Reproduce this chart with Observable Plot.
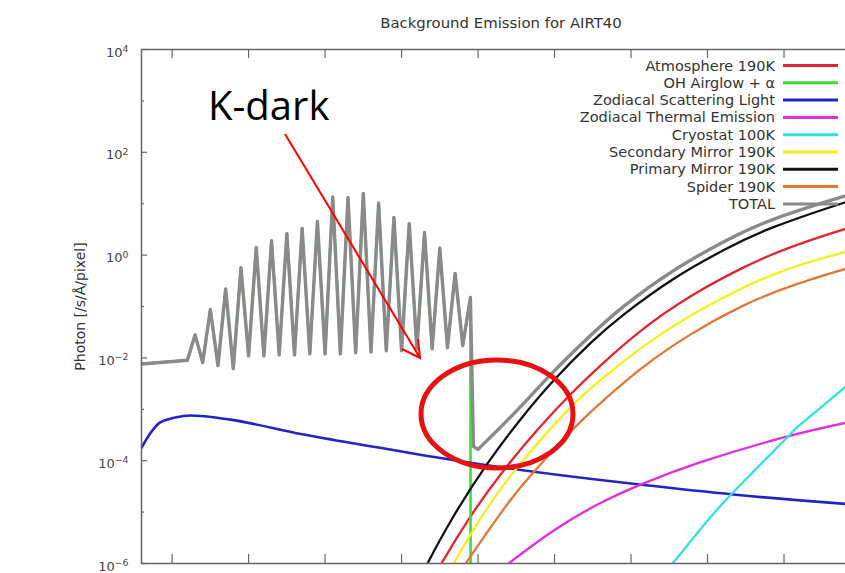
<!DOCTYPE html>
<html><head><meta charset="utf-8">
<script src="https://cdn.jsdelivr.net/npm/d3@7"></script>
<script src="https://cdn.jsdelivr.net/npm/@observablehq/plot@0.6"></script>
<style>
html,body{margin:0;padding:0;background:#fff;overflow:hidden;}
#chart{width:845px;height:573px;overflow:hidden;position:relative;}
#chart svg{max-width:none !important;}
</style></head><body><div id="chart"></div>
<script>
const chartTitle = "Background Emission for AIRT40";
const yAxisLabel = "Photon [/s/Å/pixel]";
const seriesNames = ["Atmosphere 190K","OH Airglow + α","Zodiacal Scattering Light","Zodiacal Thermal Emission","Cryostat 100K","Secondary Mirror 190K","Primary Mirror 190K","Spider 190K","TOTAL"];
const seriesColors = ["#e2262f","#3ddc3d","#2424c4","#e02ee0","#35e0e0","#f2f020","#111111","#e27838","#8a8a8a"];

const yTickValues = [1e-6, 1e-4, 1e-2, 1, 1e2, 1e4];
const yTickLabels = ["10^−6","10^−4","10^−2","10^0","10^2","10^4"];
const yMinorTicks = [1e-5, 1e-3, 1e-1, 1e1, 1e3];
const xTickValues = [0.5, 1.0, 1.5, 2.0, 2.5, 3.0, 3.5, 4.0, 4.5];

// wavelength [um] / photon rate
const ohWl = [0.30,0.60,0.65,0.70,0.75,0.80,0.85,0.90,0.95,1.00,1.05,1.10,1.15,1.20,1.25,1.30,1.35,1.40,1.45,1.50,1.55,1.60,1.65,1.70,1.75,1.80,1.85,1.90,1.95,2.00,2.05,2.10,2.15,2.20,2.25,2.30,2.35,2.40,2.45];
const ohVal = [7.6e-3,9.0e-3,0.028,8.1e-3,0.087,7.1e-3,0.22,6.2e-3,0.57,0.011,1.41,0.011,1.9,0.0115,2.6,0.0115,3.3,0.012,4.5,0.012,13.5,0.012,13.2,0.0126,15.8,0.013,10.3,0.0138,5.4,0.0138,4.1,0.015,2.75,0.015,1.37,0.0158,0.44,0.0174,0.15];
const airglowWl = [...ohWl, 2.452];
const airglowVal = [...ohVal, 1e-9];

const atmosWl = [2.19,2.26,2.45,2.67,2.89,3.11,3.30,3.57,3.89,4.22,4.55,4.91,5.00];
const atmosVal = [4.0e-7,9.9e-7,8.2e-6,6.6e-5,4.06e-4,2.03e-3,7.1e-3,0.0347,0.158,0.546,1.45,3.30,3.96];

const zodiScatterWl = [0.30,0.36,0.42,0.52,0.62,0.88,1.34,1.86,2.13,2.45,3.30,3.57,4.17,4.91,5.00];
const zodiScatterVal = [1.78e-4,3.5e-4,5.5e-4,6.9e-4,7.6e-4,6.3e-4,3.3e-4,1.78e-4,1.29e-4,9.1e-5,4.2e-5,3.4e-5,2.2e-5,1.44e-5,1.38e-5];

const zodiThermalWl = [2.62,2.70,3.00,3.30,3.57,3.96,4.53,4.91,5.00];
const zodiThermalVal = [6.3e-7,1.0e-6,4.5e-6,1.5e-5,3.5e-5,9.5e-5,3.0e-4,5.5e-4,6.3e-4];

const cryoWl = [3.72,3.77,3.96,4.17,4.53,4.63,4.91,5.00];
const cryoVal = [6.2e-7,9.8e-7,4.9e-6,2.48e-5,3.03e-4,5.77e-4,2.88e-3,4.6e-3];

const secondaryWl = [2.27,2.34,2.52,2.74,3.06,3.30,3.57,3.89,4.22,4.55,4.91,5.00];
const secondaryVal = [4.2e-7,1.0e-6,7.8e-6,6.4e-5,7.98e-4,3.69e-3,0.0158,0.0665,0.222,0.565,1.17,1.37];

const primaryWl = [2.10,2.17,2.34,2.56,2.78,3.00,3.24,3.45,3.78,4.11,4.44,4.91,5.00];
const primaryVal = [3.5e-7,1.0e-6,8.3e-6,8.7e-5,6.5e-4,3.8e-3,0.020,0.069,0.347,1.27,3.58,10.9,13.1];

const spiderWl = [2.34,2.41,2.67,2.85,3.11,3.30,3.57,3.89,4.22,4.55,4.91,5.00];
const spiderVal = [4.2e-7,9.1e-7,1.17e-5,5.4e-5,3.78e-4,1.32e-3,6.3e-3,0.0287,0.0993,0.252,0.548,0.658];

const totalWl = [...ohWl, 2.47,2.50,2.63,2.78,3.00,3.24,3.45,3.78,4.11,4.44,4.91,5.00];
const totalVal = [...ohVal, 1.9e-4,1.66e-4,4.0e-4,1.14e-3,5.65e-3,0.0282,0.0998,0.504,1.84,5.08,14.4,16.9];

const toRows = (xs, ys) => xs.map((x, i) => ({x, y: ys[i]}));
const series = [
  {rows: toRows(atmosWl, atmosVal), curve: "natural", w: 2.3},
  {rows: toRows(airglowWl, airglowVal), curve: "linear", w: 2.6},
  {rows: toRows(zodiScatterWl, zodiScatterVal), curve: "monotone-x", w: 2.6},
  {rows: toRows(zodiThermalWl, zodiThermalVal), curve: "natural", w: 2.3},
  {rows: toRows(cryoWl, cryoVal), curve: "natural", w: 2.3},
  {rows: toRows(secondaryWl, secondaryVal), curve: "natural", w: 2.3},
  {rows: toRows(primaryWl, primaryVal), curve: "natural", w: 2.3},
  {rows: toRows(spiderWl, spiderVal), curve: "natural", w: 2.3}
];
const totalRows = toRows(totalWl, totalVal);

const innerW = 719, innerH = 514;
const lineMarks = series.map((s, i) => Plot.line(s.rows, {x: "x", y: "y", stroke: seriesColors[i], strokeWidth: s.w, curve: s.curve, clip: true}));

const plot = Plot.plot({
  width: 880, height: 600,
  marginLeft: 141, marginRight: 20, marginTop: 49, marginBottom: 37,
  style: {fontFamily: "'DejaVu Sans', sans-serif", background: "#fff", maxWidth: "none"},
  x: {type: "linear", domain: [0.3, 5.0], axis: null},
  y: {type: "log", domain: [1e-6, 1e4], axis: null},
  marks: [
    ...lineMarks,
    Plot.line(totalRows, {x: "x", y: "y", filter: d => d.x <= 2.5, stroke: seriesColors[8], strokeWidth: 3.4, clip: true}),
    Plot.line(totalRows, {x: "x", y: "y", filter: d => d.x >= 2.5, stroke: seriesColors[8], strokeWidth: 3.4, curve: "natural", clip: true}),
    Plot.frame({stroke: "#666", strokeWidth: 1.5}),
    Plot.tickY(yTickValues, {y: d => d, insetRight: innerW - 6, stroke: "#666", strokeWidth: 1.2}),
    Plot.tickY(yMinorTicks, {y: d => d, insetRight: innerW - 3, stroke: "#666", strokeWidth: 1.2}),
    Plot.tickX(xTickValues, {x: d => d, insetTop: innerH - 9, stroke: "#666", strokeWidth: 1.2}),
    Plot.tickX(xTickValues, {x: d => d, insetBottom: innerH - 9, stroke: "#666", strokeWidth: 1.2}),
    Plot.text(yTickValues, {y: d => d, text: (d, i) => yTickLabels[i], frameAnchor: "left", textAnchor: "end", lineAnchor: "middle", dx: -13, dy: 3, fontSize: 13, fill: "#444"}),
    Plot.text([chartTitle], {text: d => d, frameAnchor: "top", lineAnchor: "middle", textAnchor: "middle", dy: -26, fontSize: 14.9, fill: "#333"}),
    Plot.text([yAxisLabel], {text: d => d, frameAnchor: "left", textAnchor: "middle", lineAnchor: "middle", rotate: -90, dx: -61, fontSize: 14, fill: "#333"})
  ]
});

const svg = d3.select(plot);
svg.selectAll("text").each(function() {
  const m = /^10\^(.+)$/.exec(this.textContent);
  if (m) {
    const s = d3.select(this);
    s.text("");
    s.append("tspan").text("10");
    s.append("tspan").attr("dy", "-0.5em").attr("font-size", "0.72em").text(m[1]);
  }
});

// legend
const lg = svg.append("g").attr("font-family", "'DejaVu Sans', sans-serif").attr("font-size", 14.5).attr("fill", "#333");
seriesNames.forEach((name, i) => {
  const y = 65.5 + i * 17.3;
  lg.append("text").attr("x", 775).attr("y", y).attr("dy", "0.35em").attr("text-anchor", "end").text(name);
  lg.append("line").attr("x1", 783).attr("x2", 838).attr("y1", y).attr("y2", y)
    .attr("stroke", seriesColors[i]).attr("stroke-width", 3);
});

// annotation
const ann = svg.append("g");
ann.append("text").attr("x", 208).attr("y", 120).attr("text-anchor", "start").attr("font-family", "'Open Sans', sans-serif")
  .attr("font-size", 40).attr("fill", "#000").text("K-dark");
ann.append("path").attr("d", "M285,134L420,358M402,349L420,358L418,339")
  .attr("stroke", "#ff0000").attr("stroke-width", 2).attr("fill", "none");
ann.append("ellipse").attr("cx", 497).attr("cy", 414).attr("rx", 76).attr("ry", 54)
  .attr("stroke", "#e81010").attr("stroke-width", 5).attr("fill", "none");

document.getElementById("chart").appendChild(plot);
</script>
</body></html>
